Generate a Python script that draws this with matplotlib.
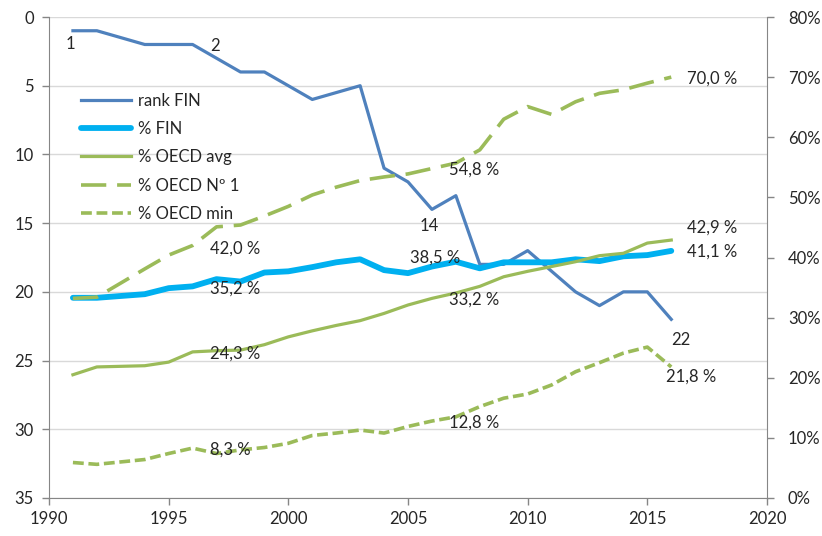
import numpy as np
import matplotlib
matplotlib.use('Agg')
import matplotlib.pyplot as plt

# data (1993 is not in the source)
years = [1991, 1992, 1994, 1995, 1996, 1997, 1998, 1999, 2000, 2001, 2002, 2003,
         2004, 2005, 2006, 2007, 2008, 2009, 2010, 2011, 2012, 2013, 2014, 2015, 2016]
rank_fin = [1, 1, 2, 2, 2, 3, 4, 4, 5, 6, np.nan, 5,
            11, 12, 14, 13, 18, 18, 17, np.nan, 20, 21, 20, 20, 22]
pct_fin = [33.3, 33.3, 33.9, 34.9, 35.2, 36.4, 36.0, 37.5, 37.7, 38.4, 39.2, 39.7,
           37.9, 37.4, 38.5, 39.3, 38.2, 39.2, 39.2, 39.2, 39.7, 39.4, 40.2, 40.4, 41.1]
pct_avg = [20.5, 21.8, 22.0, 22.6, 24.3, 24.5, 24.6, 25.5, 26.8, 27.8, 28.7, 29.5,
           30.7, 32.1, 33.2, 34.1, 35.2, 36.8, 37.7, 38.5, 39.3, 40.3, 40.7, 42.4, 42.9]
pct_top = [33.2, 33.4, 38.1, 40.4, 42.0, 45.1, 45.4, 46.9, 48.5, 50.4, 51.7, 52.8,
           53.4, 53.9, 54.8, 55.7, 57.9, 63.0, 65.1, 63.8, 65.9, 67.3, 67.9, 69.0, 70.0]
pct_min = [5.9, 5.6, 6.4, 7.4, 8.3, 7.4, 8.0, 8.4, 9.1, 10.4, 10.8, 11.3,
           10.8, 11.9, 12.8, 13.5, 15.2, 16.6, 17.3, 18.8, 21.0, 22.5, 24.1, 25.1, 21.8]

label_years = [1996, 2006, 2016]
rank_label_years = [1991, 1996, 2006, 2016]

BLUE = '#4F81BD'
CYAN = '#00B0F0'
GREEN = '#9BBB59'
TXT = '#262626'
AXC = '#868686'
FS = 12

plt.rc('font', family=['Lato', 'DejaVu Sans'])

fig = plt.figure(figsize=(8.22, 5.36), dpi=100)
ax = fig.add_axes([49/822, 38/536, 718/822, 481/536])
ax2 = ax.twinx()

yrs = np.array(years)
rk = np.array(rank_fin, dtype=float)
ok = ~np.isnan(rk)
l1, = ax.plot(yrs[ok], rk[ok], color=BLUE, lw=2.3, label='rank FIN')

l2, = ax2.plot(years, pct_fin, color=CYAN, lw=4.2, label='% FIN', solid_capstyle='round')
l3, = ax2.plot(years, pct_avg, color=GREEN, lw=2.3, label='% OECD avg')
l4, = ax2.plot(years, pct_top, color=GREEN, lw=2.6, label='% OECD Nº 1')
l4.set_dashes((7, 3))
l5, = ax2.plot(years, pct_min, color=GREEN, lw=2.6, label='% OECD min')
l5.set_dashes((3, 1.3))

ax.set_xlim(1990, 2020)
ax.set_ylim(35, 0)
ax2.set_ylim(0, 80)
ax.set_xticks(range(1990, 2021, 5))
ax.set_yticks(range(0, 36, 5))
ax2.set_yticks(range(0, 81, 10))
ax2.set_yticklabels(['{:d}%'.format(v) for v in range(0, 81, 10)])

ax.grid(axis='y', color='#D9D9D9', lw=1)
ax.set_axisbelow(True)
for a in (ax, ax2):
  a.spines['top'].set_visible(False)
  for s in ('left', 'right', 'bottom'):
    a.spines[s].set_color(AXC)
  a.tick_params(colors=AXC, labelcolor=TXT, labelsize=FS, length=5, width=1)
ax.spines['right'].set_visible(False)
ax2.spines['left'].set_visible(False)
ax2.spines['bottom'].set_visible(False)
ax.tick_params(axis='y', pad=6)
ax2.tick_params(axis='y', pad=10)
ax.tick_params(axis='x', pad=4)

# data labels
def fmt(v):
  return '{:.1f} %'.format(v).replace('.', ',')

offs = {
  ('top', 1996): (17, -3), ('fin', 1996): (17, -2), ('avg', 1996): (17, -2), ('min', 1996): (17, -2),
  ('top', 2006): (17, -1), ('fin', 2006): (-22, 9), ('avg', 2006): (17, -1), ('min', 2006): (17, -2),
  ('top', 2016): (16, -2), ('fin', 2016): (16, -1), ('avg', 2016): (16, 12), ('min', 2016): (-5, -10),
}
series = {'fin': pct_fin, 'avg': pct_avg, 'top': pct_top, 'min': pct_min}
for key, vals in series.items():
  for y in label_years:
    v = vals[years.index(y)]
    dx, dy = offs[(key, y)]
    ax2.annotate(fmt(v), (y, v), xytext=(dx, dy), textcoords='offset pixels',
                 ha='left', va='center', fontsize=FS, color=TXT)

rank_offs = {1991: (-3, -13), 1996: (22, -2), 2006: (-3, -17), 2016: (10, -21)}
for y in rank_label_years:
  v = rank_fin[years.index(y)]
  dx, dy = rank_offs[y]
  ax.annotate('{:d}'.format(int(v)), (y, v), xytext=(dx, dy), textcoords='offset pixels',
              ha='center', va='center', fontsize=FS, color=TXT)

ax2.legend(handles=[l1, l2, l3, l4, l5], loc='upper left', bbox_to_anchor=(0.045, 0.843),
           frameon=False, fontsize=FS, handlelength=3.0, labelspacing=0.74,
           handletextpad=0.4, borderpad=0, borderaxespad=0, labelcolor=TXT)

fig.savefig('out.png', dpi=100)
